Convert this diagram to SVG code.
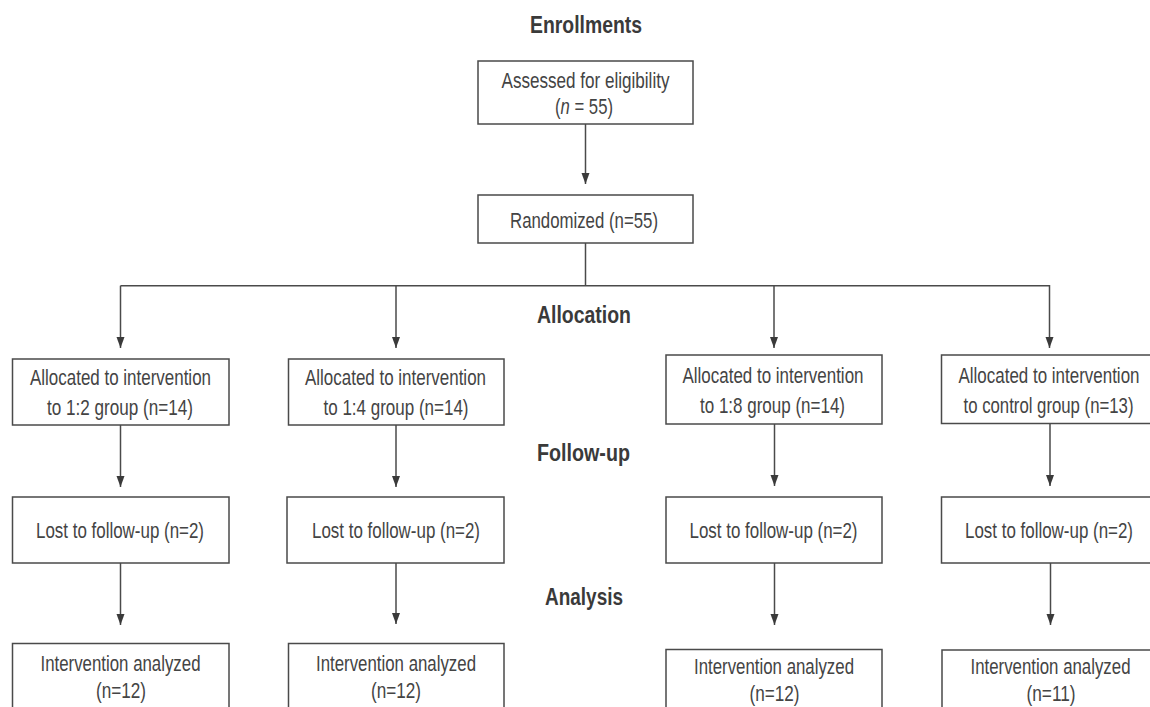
<svg xmlns="http://www.w3.org/2000/svg" width="1150" height="707" viewBox="0 0 1150 707">
<style>
.box{fill:#fff;stroke:#4a4a4a;stroke-width:1.5}
.t{font-family:"Liberation Sans",Arial,sans-serif;font-size:22px;fill:#444;text-anchor:middle}
.h{font-family:"Liberation Sans",Arial,sans-serif;font-size:24px;font-weight:bold;fill:#3a3a3a;text-anchor:middle}
.c{fill:none;stroke:#4a4a4a;stroke-width:1.5}
.a{marker-end:url(#arr)}
</style>
<defs>
<marker id="arr" markerUnits="userSpaceOnUse" markerWidth="11" markerHeight="10" refX="11" refY="4" orient="auto">
<path d="M0,0 L11,4 L0,8 z" fill="#3a3a3a"/>
</marker>
</defs>
<rect width="1150" height="707" fill="#fff"/>
<g id="labels">
<text class="h" x="586" y="33" textLength="112" lengthAdjust="spacingAndGlyphs">Enrollments</text>
<text class="h" x="584" y="323" textLength="94" lengthAdjust="spacingAndGlyphs">Allocation</text>
<text class="h" x="583.5" y="461" textLength="93" lengthAdjust="spacingAndGlyphs">Follow-up</text>
<text class="h" x="584" y="605" textLength="78" lengthAdjust="spacingAndGlyphs">Analysis</text>
</g>
<g id="connectors">
<line class="c a" x1="585.5" y1="124" x2="585.5" y2="184"/>
<polyline class="c" points="585.5,243 585.5,285.7"/>
<line class="c" x1="120.5" y1="285.7" x2="1049.5" y2="285.7"/>
<line class="c a" x1="120.5" y1="285.7" x2="120.5" y2="348"/>
<line class="c a" x1="396" y1="285.7" x2="396" y2="348"/>
<line class="c a" x1="774" y1="285.7" x2="774" y2="348"/>
<line class="c a" x1="1049.5" y1="285" x2="1049.5" y2="348"/>
<line class="c a" x1="120.5" y1="425" x2="120.5" y2="487"/>
<line class="c a" x1="396" y1="425" x2="396" y2="487"/>
<line class="c a" x1="774.5" y1="424" x2="774.5" y2="486"/>
<line class="c a" x1="1050" y1="423" x2="1050" y2="486"/>
<line class="c a" x1="120.5" y1="563" x2="120.5" y2="625"/>
<line class="c a" x1="396" y1="563" x2="396" y2="624"/>
<line class="c a" x1="774.5" y1="563" x2="774.5" y2="625"/>
<line class="c a" x1="1050.5" y1="563" x2="1050.5" y2="625"/>
</g>
<g id="assessed">
<rect class="box" x="478" y="61" width="215" height="63"/>
<text class="t" x="585.5" y="87.5" textLength="168" lengthAdjust="spacingAndGlyphs">Assessed for eligibility</text>
<text class="t" x="584" y="113.5" textLength="58" lengthAdjust="spacingAndGlyphs">(<tspan font-style="italic">n</tspan> = 55)</text>
</g>
<g id="randomized">
<rect class="box" x="478" y="195" width="215" height="48"/>
<text class="t" x="584" y="228" textLength="148" lengthAdjust="spacingAndGlyphs">Randomized (n=55)</text>
</g>
<g id="alloc12">
<rect class="box" x="12.5" y="359" width="216.5" height="66"/>
<text class="t" x="120.5" y="385" textLength="181" lengthAdjust="spacingAndGlyphs">Allocated to intervention</text>
<text class="t" x="120" y="414.5" textLength="146" lengthAdjust="spacingAndGlyphs">to 1:2 group (n=14)</text>
</g>
<g id="alloc14">
<rect class="box" x="288.5" y="359" width="215.5" height="66"/>
<text class="t" x="395.5" y="385" textLength="181" lengthAdjust="spacingAndGlyphs">Allocated to intervention</text>
<text class="t" x="396" y="414.5" textLength="145" lengthAdjust="spacingAndGlyphs">to 1:4 group (n=14)</text>
</g>
<g id="alloc18">
<rect class="box" x="666" y="355" width="216" height="69"/>
<text class="t" x="773" y="383" textLength="181" lengthAdjust="spacingAndGlyphs">Allocated to intervention</text>
<text class="t" x="772.5" y="412.5" textLength="145" lengthAdjust="spacingAndGlyphs">to 1:8 group (n=14)</text>
</g>
<g id="allocControl">
<rect class="box" x="941.5" y="355" width="217" height="68.5"/>
<text class="t" x="1049" y="383" textLength="181" lengthAdjust="spacingAndGlyphs">Allocated to intervention</text>
<text class="t" x="1048.5" y="412.5" textLength="170" lengthAdjust="spacingAndGlyphs">to control group (n=13)</text>
</g>
<g id="lost12">
<rect class="box" x="12.5" y="497" width="216.5" height="66"/>
<text class="t" x="120" y="537.5" textLength="168" lengthAdjust="spacingAndGlyphs">Lost to follow-up (n=2)</text>
</g>
<g id="lost14">
<rect class="box" x="287" y="497" width="217" height="66"/>
<text class="t" x="396" y="537.5" textLength="168" lengthAdjust="spacingAndGlyphs">Lost to follow-up (n=2)</text>
</g>
<g id="lost18">
<rect class="box" x="666" y="497" width="216" height="66"/>
<text class="t" x="773.5" y="537.5" textLength="168" lengthAdjust="spacingAndGlyphs">Lost to follow-up (n=2)</text>
</g>
<g id="lostControl">
<rect class="box" x="941.5" y="497" width="217" height="66"/>
<text class="t" x="1049" y="537.5" textLength="168" lengthAdjust="spacingAndGlyphs">Lost to follow-up (n=2)</text>
</g>
<g id="analyzed12">
<rect class="box" x="12.5" y="643.5" width="216.5" height="80"/>
<text class="t" x="120.5" y="670.5" textLength="160" lengthAdjust="spacingAndGlyphs">Intervention analyzed</text>
<text class="t" x="121" y="698" textLength="50" lengthAdjust="spacingAndGlyphs">(n=12)</text>
</g>
<g id="analyzed14">
<rect class="box" x="288.5" y="643.5" width="215.5" height="80"/>
<text class="t" x="396" y="670.5" textLength="160" lengthAdjust="spacingAndGlyphs">Intervention analyzed</text>
<text class="t" x="396" y="698" textLength="50" lengthAdjust="spacingAndGlyphs">(n=12)</text>
</g>
<g id="analyzed18">
<rect class="box" x="666" y="649.5" width="216" height="80"/>
<text class="t" x="774" y="673.5" textLength="160" lengthAdjust="spacingAndGlyphs">Intervention analyzed</text>
<text class="t" x="774.5" y="700.5" textLength="50" lengthAdjust="spacingAndGlyphs">(n=12)</text>
</g>
<g id="analyzedControl">
<rect class="box" x="942" y="650" width="217" height="80"/>
<text class="t" x="1050.5" y="674" textLength="160" lengthAdjust="spacingAndGlyphs">Intervention analyzed</text>
<text class="t" x="1051" y="700.5" textLength="49" lengthAdjust="spacingAndGlyphs">(n=11)</text>
</g>
</svg>
